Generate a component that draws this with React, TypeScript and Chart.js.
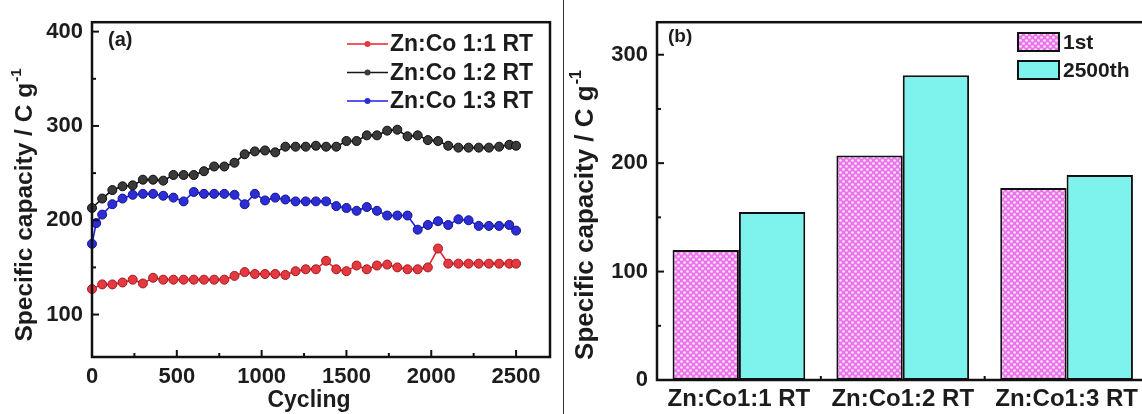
import React, { useEffect, useRef } from 'react';
import { Chart, registerables } from 'chart.js';

Chart.register(...registerables);

const FONT = '"Liberation Sans", Arial, Helvetica, sans-serif';
const TEXT = '#1c1c1c';

// ---------- Left chart (a) data ----------
const cycles = [0, 60, 120, 180, 240, 300, 360, 420, 480, 540, 600, 660, 720, 780, 840, 900, 960, 1020, 1080, 1140, 1200, 1260, 1320, 1380, 1440, 1500, 1560, 1620, 1680, 1740, 1800, 1860, 1920, 1980, 2040, 2100, 2160, 2220, 2280, 2340, 2400, 2460, 2500];
const blueCycles = [0, 25, 60, 120, 180, 240, 300, 360, 420, 480, 540, 600, 660, 720, 780, 840, 900, 960, 1020, 1080, 1140, 1200, 1260, 1320, 1380, 1440, 1500, 1560, 1620, 1680, 1740, 1800, 1860, 1920, 1980, 2040, 2100, 2160, 2220, 2280, 2340, 2400, 2460, 2500];
const znCo11 = [127, 132, 132, 134, 137, 133, 139, 137, 137, 137, 137, 137, 137, 137, 141, 145, 143, 143, 143, 142, 146, 148, 148, 157, 148, 146, 152, 148, 152, 153, 150, 148, 148, 150, 170, 154, 154, 154, 154, 154, 154, 154, 154];
const znCo12 = [213, 223, 232, 236, 237, 243, 243, 242, 248, 248, 248, 252, 257, 257, 261, 270, 273, 274, 272, 278, 278, 278, 279, 278, 278, 284, 284, 290, 290, 295, 296, 289, 290, 285, 284, 279, 277, 277, 277, 277, 278, 280, 279];
const znCo13 = [175, 197, 206, 217, 223, 227, 228, 228, 226, 224, 220, 230, 228, 228, 228, 227, 217, 228, 221, 224, 222, 220, 220, 220, 220, 215, 213, 210, 214, 210, 205, 205, 205, 190, 195, 199, 195, 201, 200, 194, 194, 194, 195, 189];
const lineLabels = ['Zn:Co 1:1 RT', 'Zn:Co 1:2 RT', 'Zn:Co 1:3 RT'];
const lineColors = ['#e8222c', '#151515', '#1f1fe6'];
const markerFills = ['#e23a40', '#3a3a3a', '#2d2dd6'];
const markerEdges = ['#a8141c', '#0a0a0a', '#14148c'];
const xMajorA = [0, 500, 1000, 1500, 2000, 2500];
const xMinorA = [250, 750, 1250, 1750, 2250];
const yMajorA = [100, 200, 300, 400];
const yMinorA = [150, 250, 350];

// ---------- Right chart (b) data ----------
const groups = ['Zn:Co1:1 RT', 'Zn:Co1:2 RT', 'Zn:Co1:3 RT'];
const firstCycle = [120, 207, 177];
const lastCycle = [155, 281, 189];
const barLabels = ['1st', '2500th'];
const yMajorB = [0, 100, 200, 300];
const yMinorB = [50, 150, 250];

function tickLine(ctx: CanvasRenderingContext2D, x1: number, y1: number, x2: number, y2: number) {
  ctx.beginPath();
  ctx.moveTo(x1, y1);
  ctx.lineTo(x2, y2);
  ctx.stroke();
}

function drawYTitle(ctx: CanvasRenderingContext2D, bx: number, cy: number, size: number) {
  ctx.save();
  ctx.translate(bx, cy);
  ctx.rotate(-Math.PI / 2);
  ctx.fillStyle = TEXT;
  ctx.textBaseline = 'alphabetic';
  ctx.textAlign = 'left';
  const main = 'Specific capacity / C g';
  const sup = '-1';
  ctx.font = `bold ${size}px ${FONT}`;
  const w1 = ctx.measureText(main).width;
  const supSize = Math.round(size * 0.62);
  ctx.font = `bold ${supSize}px ${FONT}`;
  const w2 = ctx.measureText(sup).width;
  const start = -(w1 + w2 + 1) / 2;
  ctx.font = `bold ${size}px ${FONT}`;
  ctx.fillText(main, start, 0);
  ctx.font = `bold ${supSize}px ${FONT}`;
  ctx.fillText(sup, start + w1 + 1, -size * 0.45);
  ctx.restore();
}

function makePattern(): CanvasPattern | string {
  const c = document.createElement('canvas');
  c.width = 6;
  c.height = 6;
  const g = c.getContext('2d');
  if (!g) return '#f2a6f2';
  g.fillStyle = '#ea74ea';
  g.fillRect(0, 0, 6, 6);
  g.fillStyle = '#fde4fd';
  [[1.5, 1.5], [4.5, 4.5]].forEach(([x, y]) => {
    g.beginPath();
    g.arc(x, y, 1.35, 0, Math.PI * 2);
    g.fill();
  });
  const p = g.createPattern(c, 'repeat');
  return p || '#f2a6f2';
}

const tickFont = { family: FONT, size: 22, weight: 'bold' as const };
const catFont = { family: FONT, size: 24, weight: 'bold' as const };
const plainNumber = (v: any) => String(v);

export default function App() {
  const leftRef = useRef<HTMLCanvasElement>(null);
  const rightRef = useRef<HTMLCanvasElement>(null);

  useEffect(() => {
    const pattern = makePattern();

    const leftPlugin = {
      id: 'leftDecor',
      afterDraw(chart: any) {
        const { ctx, chartArea: a, scales } = chart;
        ctx.save();
        ctx.strokeStyle = '#111';
        ctx.lineWidth = 2.5;
        ctx.strokeRect(a.left, a.top, a.right - a.left, a.bottom - a.top);
        ctx.lineWidth = 2;
        xMajorA.forEach((v) => { const p = scales.x.getPixelForValue(v); tickLine(ctx, p, a.bottom, p, a.bottom - 7); });
        xMinorA.forEach((v) => { const p = scales.x.getPixelForValue(v); tickLine(ctx, p, a.bottom, p, a.bottom - 4); });
        yMajorA.forEach((v) => { const p = scales.y.getPixelForValue(v); tickLine(ctx, a.left, p, a.left + 7, p); });
        yMinorA.forEach((v) => { const p = scales.y.getPixelForValue(v); tickLine(ctx, a.left, p, a.left + 4, p); });

        // legend
        chart.data.datasets.forEach((ds: any, i: number) => {
          const y = 44 + i * 28.5;
          ctx.strokeStyle = lineColors[i];
          ctx.lineWidth = 1.6;
          tickLine(ctx, 347, y, 388, y);
          ctx.beginPath();
          ctx.arc(367.5, y, 3, 0, Math.PI * 2);
          ctx.fillStyle = markerFills[i];
          ctx.fill();
          ctx.fillStyle = TEXT;
          ctx.font = `bold 23px ${FONT}`;
          ctx.textBaseline = 'middle';
          ctx.textAlign = 'left';
          ctx.fillText(ds.label, 390, y + 1);
        });

        ctx.fillStyle = TEXT;
        ctx.font = `bold 20px ${FONT}`;
        ctx.textBaseline = 'middle';
        ctx.textAlign = 'left';
        ctx.fillText('(a)', 108, 40);

        ctx.font = `bold 23px ${FONT}`;
        ctx.textAlign = 'center';
        ctx.textBaseline = 'alphabetic';
        ctx.fillText('Cycling', 309, 407);

        drawYTitle(ctx, 32, 205, 24.5);
        ctx.restore();
      },
    };

    const rightPlugin = {
      id: 'rightDecor',
      afterDraw(chart: any) {
        const { ctx, chartArea: a, scales } = chart;
        ctx.save();
        ctx.strokeStyle = '#111';
        ctx.lineWidth = 2.5;
        ctx.strokeRect(a.left, a.top, a.right - a.left, a.bottom - a.top);
        ctx.lineWidth = 2;
        yMajorB.forEach((v) => { const p = scales.y.getPixelForValue(v); tickLine(ctx, a.left, p, a.left + 7, p); });
        yMinorB.forEach((v) => { const p = scales.y.getPixelForValue(v); tickLine(ctx, a.left, p, a.left + 4, p); });
        for (let i = 0; i < groups.length - 1; i++) {
          const p = (scales.x.getPixelForTick(i) + scales.x.getPixelForTick(i + 1)) / 2;
          tickLine(ctx, p, a.bottom, p, a.bottom - 4);
        }

        // legend (canvas starts at page x 566)
        const fills = [pattern, '#7ef3ee'];
        barLabels.forEach((lab, i) => {
          const y = 33 + i * 28;
          ctx.fillStyle = fills[i] as any;
          ctx.fillRect(452, y, 41, 18);
          ctx.strokeStyle = '#111';
          ctx.lineWidth = 2;
          ctx.strokeRect(452, y, 41, 18);
          ctx.fillStyle = TEXT;
          ctx.font = `bold 21px ${FONT}`;
          ctx.textBaseline = 'middle';
          ctx.textAlign = 'left';
          ctx.fillText(lab, 497, y + 10);
        });

        ctx.fillStyle = TEXT;
        ctx.font = `bold 19px ${FONT}`;
        ctx.textBaseline = 'middle';
        ctx.textAlign = 'left';
        ctx.fillText('(b)', 102, 37);

        drawYTitle(ctx, 27, 215, 26);
        ctx.restore();
      },
    };

    const left = new Chart(leftRef.current!, {
      type: 'line',
      data: {
        datasets: [
          { label: lineLabels[0], data: cycles.map((c, i) => ({ x: c, y: znCo11[i] })) },
          { label: lineLabels[1], data: cycles.map((c, i) => ({ x: c, y: znCo12[i] })) },
          { label: lineLabels[2], data: blueCycles.map((c, i) => ({ x: c, y: znCo13[i] })) },
        ].map((d, i) => ({
          ...d,
          borderColor: lineColors[i],
          backgroundColor: markerFills[i],
          pointBackgroundColor: markerFills[i],
          pointBorderColor: markerEdges[i],
          pointBorderWidth: 1,
          pointRadius: 4.5,
          borderWidth: 1.6,
          tension: 0,
          clip: false as any,
        })),
      },
      options: {
        animation: false,
        responsive: false,
        devicePixelRatio: 1,
        layout: { padding: { top: 19, right: 10, left: 0, bottom: 0 } },
        plugins: { legend: { display: false }, tooltip: { enabled: false } },
        scales: {
          x: {
            type: 'linear',
            min: 0,
            max: 2700,
            afterBuildTicks: (s: any) => { s.ticks = xMajorA.map((v) => ({ value: v })); },
            afterFit: (s: any) => { s.height = 57; },
            grid: { display: false, drawTicks: false },
            border: { display: false },
            ticks: { font: tickFont, color: TEXT, padding: 7, maxRotation: 0, callback: plainNumber },
          },
          y: {
            type: 'linear',
            min: 55,
            max: 410,
            afterBuildTicks: (s: any) => { s.ticks = yMajorA.map((v) => ({ value: v })); },
            afterFit: (s: any) => { s.width = 92; },
            grid: { display: false, drawTicks: false },
            border: { display: false },
            ticks: { font: tickFont, color: TEXT, padding: 9, callback: plainNumber },
          },
        },
      } as any,
      plugins: [leftPlugin],
    });

    const right = new Chart(rightRef.current!, {
      type: 'bar',
      data: {
        labels: groups,
        datasets: [
          { label: barLabels[0], data: firstCycle, backgroundColor: pattern as any },
          { label: barLabels[1], data: lastCycle, backgroundColor: '#7ef3ee' },
        ].map((d) => ({
          ...d,
          borderColor: '#111',
          borderWidth: 2,
          borderSkipped: false,
          categoryPercentage: 0.81,
          barPercentage: 1,
        })),
      },
      options: {
        animation: false,
        responsive: false,
        devicePixelRatio: 1,
        layout: { padding: { top: 20, right: 7.5, left: 0, bottom: 0 } },
        plugins: { legend: { display: false }, tooltip: { enabled: false } },
        scales: {
          x: {
            afterFit: (s: any) => { s.height = 34; },
            grid: { display: false, drawTicks: false },
            border: { display: false },
            ticks: { font: catFont, color: TEXT, padding: 5, maxRotation: 0, autoSkip: false },
          },
          y: {
            type: 'linear',
            min: 0,
            max: 330,
            afterBuildTicks: (s: any) => { s.ticks = yMajorB.map((v) => ({ value: v })); },
            afterFit: (s: any) => { s.width = 91; },
            grid: { display: false, drawTicks: false },
            border: { display: false },
            ticks: { font: tickFont, color: TEXT, padding: 9, callback: plainNumber },
          },
        },
      } as any,
      plugins: [rightPlugin],
    });

    return () => {
      left.destroy();
      right.destroy();
    };
  }, []);

  return (
    <div style={{ position: 'fixed', left: 0, top: 0, width: 1142, height: 414, overflow: 'hidden', background: '#fff' }}>
      <canvas ref={leftRef} width={560} height={414} style={{ position: 'absolute', left: 0, top: 0, width: 560, height: 414 }} />
      <div style={{ position: 'absolute', left: 563, top: 0, width: 1, height: 414, background: '#333' }} />
      <canvas ref={rightRef} width={590} height={414} style={{ position: 'absolute', left: 566, top: 0, width: 590, height: 414 }} />
    </div>
  );
}
